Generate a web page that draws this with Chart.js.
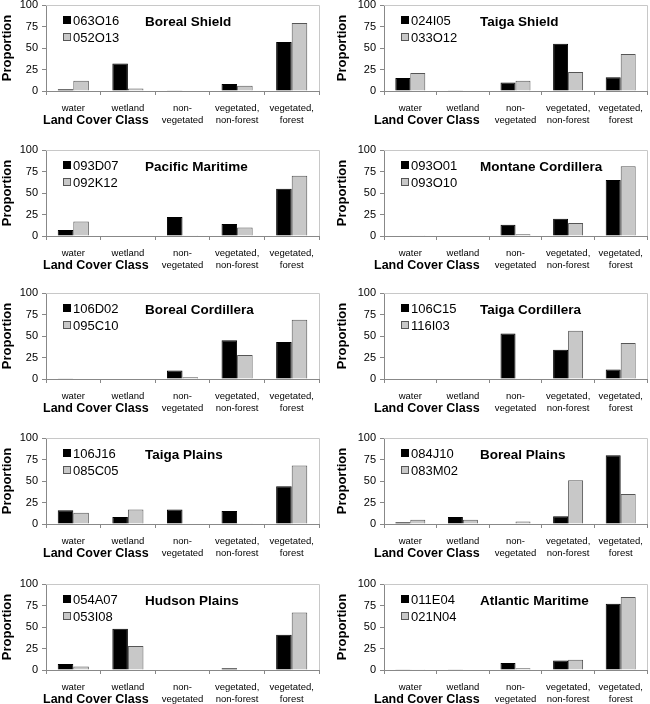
<!DOCTYPE html>
<html>
<head>
<meta charset="utf-8">
<script src="https://cdn.jsdelivr.net/npm/chart.js@4.4.1/dist/chart.umd.min.js"></script>
<style>
html, body { margin: 0; padding: 0; background: #fff; overflow: hidden; }
#wrap { position: relative; width: 650px; height: 704px; }
#wrap canvas { position: absolute; }
</style>
</head>
<body>
<div id="wrap"></div>
<script>
// land cover classes (x axis)
const categories = [['water'], ['wetland'], ['non-', 'vegetated'], ['vegetated,', 'non-forest'], ['vegetated,', 'forest']];

// one panel per ecozone, read left to right, top to bottom
const regions = ['Boreal Shield', 'Taiga Shield', 'Pacific Maritime', 'Montane Cordillera', 'Boreal Cordillera',
	'Taiga Cordillera', 'Taiga Plains', 'Boreal Plains', 'Hudson Plains', 'Atlantic Maritime'];

const sheetsA = ['063O16', '024I05', '093D07', '093O01', '106D02', '106C15', '106J16', '084J10', '054A07', '011E04'];
const sheetsB = ['052O13', '033O12', '092K12', '093O10', '095C10', '116I03', '085C05', '083M02', '053I08', '021N04'];

// proportions (%) per class, same order as categories
const valuesA = [
	[2, 32, 1, 8, 57],
	[15, 1, 10, 55, 16],
	[7, 0, 22, 14, 55],
	[0.5, 0.5, 13, 20, 65],
	[1, 0, 10, 45, 43],
	[0, 0, 53, 34, 11],
	[16, 8, 17, 15, 44],
	[2, 8, 0, 9, 80],
	[7, 48, 0, 2, 41],
	[1, 1, 8, 11, 77]
];
const valuesB = [
	[12, 3, 0, 6, 79],
	[21, 0, 12, 22, 43],
	[17, 0, 1, 10, 70],
	[0.2, 0, 2, 15, 81],
	[0, 0, 2, 28, 69],
	[0, 0, 1, 56, 42],
	[13, 17, 0, 1, 68],
	[5, 5, 3, 51, 35],
	[4, 28, 0, 0, 67],
	[1, 0, 2, 12, 85]
];

const yMin = 0, yMax = 100, yStep = 25;

Chart.defaults.font.family = '"Liberation Sans", Arial, sans-serif';
Chart.defaults.color = '#000';

// page layout
const rowTops = [0, 145, 288, 433, 579];
const colLeft = [0, 325];
const yAxisWidth = [46, 59];
const padRight = [6, 3];
const yTitlePad = [0, 10];
const titleOffset = [99, 96];
const xTitleLeft = [43, 49];
const canvasW = 325, canvasH = 128, plotTop = 5, plotBottom = 91;

const panelDecor = {
	id: 'panelDecor',
	beforeDatasetsDraw(chart, args, opts)
	{
		var a = chart.chartArea;
		var ctx = chart.ctx;
		ctx.save();
		ctx.strokeStyle = '#c8c8c8';
		ctx.lineWidth = 1;
		ctx.beginPath();
		ctx.moveTo(a.left, Math.round(a.top) + 0.5);
		ctx.lineTo(Math.round(a.right) + 0.5, Math.round(a.top) + 0.5);
		ctx.lineTo(Math.round(a.right) + 0.5, a.bottom);
		ctx.stroke();
		ctx.restore();
	},
	afterDraw(chart, args, opts)
	{
		var a = chart.chartArea;
		var ctx = chart.ctx;
		ctx.save();
		ctx.textBaseline = 'middle';
		ctx.textAlign = 'left';
		chart.data.datasets.forEach((ds, i) => {
			var y = Math.round(a.top + 15 + i * 17);
			ctx.fillStyle = ds.backgroundColor;
			ctx.fillRect(a.left + 17, y - 4, 8, 8);
			ctx.strokeStyle = ds.borderColor;
			ctx.lineWidth = 1;
			ctx.strokeRect(a.left + 17.5, y - 3.5, 7, 7);
			ctx.fillStyle = '#000';
			ctx.font = '13px "Liberation Sans", Arial';
			ctx.fillText(ds.label, a.left + 27, y + 1);
		});
		ctx.font = 'bold 13.5px "Liberation Sans", Arial';
		ctx.fillText(opts.title, a.left + opts.titleOffset, a.top + 17);
		ctx.font = 'bold 12.5px "Liberation Sans", Arial';
		ctx.fillText('Land Cover Class', opts.xTitleLeft, a.bottom + 30);
		ctx.restore();
	}
};

var wrap = document.getElementById('wrap');
regions.forEach((region, k) => {
	var col = k % 2;
	var row = Math.floor(k / 2);
	var cnvs = document.createElement('canvas');
	cnvs.width = canvasW;
	cnvs.height = canvasH;
	cnvs.style.left = colLeft[col] + 'px';
	cnvs.style.top = rowTops[row] + 'px';
	wrap.appendChild(cnvs);

	new Chart(cnvs.getContext('2d'), {
		type: 'bar',
		data: {
			labels: categories,
			datasets: [
				{ label: sheetsA[k], data: valuesA[k], backgroundColor: '#000000', borderColor: '#000000', borderWidth: 1 },
				{ label: sheetsB[k], data: valuesB[k], backgroundColor: '#c8c8c8', borderColor: '#555555', borderWidth: 1 }
			]
		},
		options: {
			responsive: false,
			animation: false,
			devicePixelRatio: 1,
			layout: { padding: { top: plotTop, right: padRight[col], left: 0, bottom: 0 } },
			datasets: { bar: { categoryPercentage: 0.57, barPercentage: 1 } },
			plugins: {
				legend: { display: false },
				tooltip: { enabled: false },
				panelDecor: { title: region, titleOffset: titleOffset[col], xTitleLeft: xTitleLeft[col] }
			},
			scales: {
				x: {
					ticks: { font: { size: 9.5 }, color: '#000', padding: 8, maxRotation: 0, autoSkip: false },
					grid: { offset: true, drawOnChartArea: false, tickLength: 4, color: '#888' },
					border: { color: '#888' },
					afterFit(s) { s.height = canvasH - plotBottom; s.paddingLeft = 0; s.paddingRight = 0; }
				},
				y: {
					min: yMin,
					max: yMax,
					ticks: { stepSize: yStep, font: { size: 11 }, color: '#000', padding: 4 },
					grid: { drawOnChartArea: false, tickLength: 4, color: '#888' },
					border: { color: '#888' },
					title: { display: true, text: 'Proportion', font: { size: 13, weight: 'bold' }, color: '#000', padding: { top: yTitlePad[col], bottom: 0 } },
					afterFit(s) { s.width = yAxisWidth[col]; s.paddingTop = 0; s.paddingBottom = 0; }
				}
			}
		},
		plugins: [panelDecor]
	});
});
</script>
</body>
</html>
